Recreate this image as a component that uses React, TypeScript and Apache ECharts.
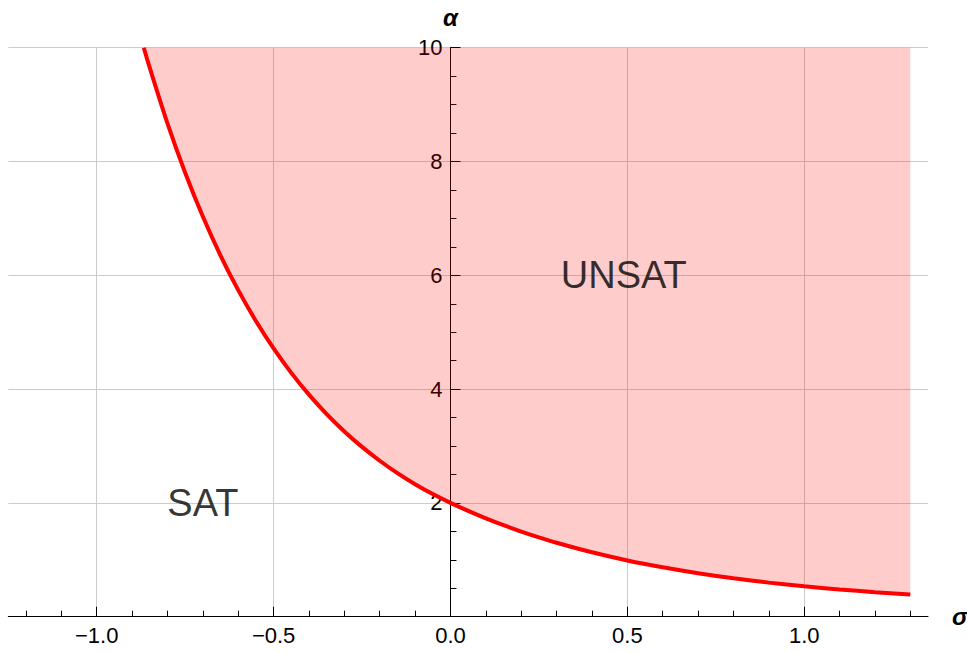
import React, { useEffect, useRef } from "react";
import * as echarts from "echarts";

// Phase boundary alpha_c(sigma)
const sigma = [-0.867, -0.85, -0.8, -0.75, -0.7, -0.65, -0.6, -0.55, -0.5, -0.45, -0.4, -0.35, -0.3, -0.25, -0.2, -0.15, -0.1, -0.05, 0, 0.05, 0.1, 0.15, 0.2, 0.25, 0.3, 0.4, 0.5, 0.6, 0.7, 0.8, 0.9, 1.0, 1.1, 1.2, 1.3];
const alpha = [10, 9.644, 8.669, 7.802, 7.032, 6.347, 5.739, 5.197, 4.715, 4.285, 3.902, 3.56, 3.256, 2.984, 2.741, 2.523, 2.329, 2.155, 2, 1.859, 1.728, 1.608, 1.497, 1.395, 1.3, 1.132, 0.989, 0.868, 0.764, 0.675, 0.599, 0.534, 0.479, 0.431, 0.391];

// Axis ticks
const xMajorTicks = [-1, -0.5, 0, 0.5, 1];
const xMinorTicks = [-1.2, -1.1, -0.9, -0.8, -0.7, -0.6, -0.4, -0.3, -0.2, -0.1, 0.1, 0.2, 0.3, 0.4, 0.6, 0.7, 0.8, 0.9, 1.1, 1.2, 1.3];
const yMajorTicks = [2, 4, 6, 8, 10];
const yMinorTicks = [0.5, 1, 1.5, 2.5, 3, 3.5, 4.5, 5, 5.5, 6.5, 7, 7.5, 8.5, 9, 9.5];

// Region labels
const regionNames = ["UNSAT", "SAT"];
const regionSigma = [0.49, -0.7];
const regionAlpha = [6.0, 2.0];

const FONT = "Liberation Sans, Arial, Helvetica, sans-serif";

// plot area in page pixels
const GRID_LEFT = 8.3;
const GRID_RIGHT = 39;
const X_MIN = -1.25;
const X_MAX = 1.35;
const PAGE_W = 967;

export default function App() {
  const ref = useRef<HTMLDivElement>(null);
  useEffect(() => {
    if (!ref.current) return;
    const chart = echarts.init(ref.current, undefined, { renderer: "svg" });
    const fmtX = (v: number) => {
      const s = Math.abs(v).toFixed(1);
      return v < 0 ? "\u2212" + s : s;
    };
    // place the vertical axis at sigma = 0
    const plotW = PAGE_W - GRID_LEFT - GRID_RIGHT;
    const zeroOffset = -((0 - X_MIN) / (X_MAX - X_MIN)) * plotW;
    chart.setOption({
      animation: false,
      backgroundColor: "#ffffff",
      grid: { left: GRID_LEFT, right: GRID_RIGHT, top: 47.7, bottom: 36.3, containLabel: false, outerBoundsMode: "none" },
      xAxis: [
        {
          type: "value",
          min: X_MIN,
          max: X_MAX,
          position: "bottom",
          axisLine: { show: true, onZero: false, lineStyle: { color: "#000", width: 1 } },
          axisTick: { show: true, inside: true, length: 10, customValues: xMajorTicks, lineStyle: { color: "#000", width: 1 } },
          axisLabel: { show: true, customValues: xMajorTicks, formatter: fmtX, fontSize: 22, color: "#000", margin: 8, fontFamily: FONT },
          splitLine: { show: true, lineStyle: { color: "#cccccc", width: 1 } },
          name: "\u03c3",
          nameLocation: "end",
          nameGap: 24,
          nameTextStyle: { fontSize: 24, fontWeight: "bold", fontStyle: "italic", color: "#000", fontFamily: FONT, verticalAlign: "middle" },
        },
        {
          type: "value",
          min: X_MIN,
          max: X_MAX,
          position: "bottom",
          axisLine: { show: false, onZero: false },
          axisTick: { show: true, inside: true, length: 6, customValues: xMinorTicks, lineStyle: { color: "#000", width: 1 } },
          axisLabel: { show: false },
          splitLine: { show: false },
        },
      ],
      yAxis: [
        {
          type: "value",
          min: 0,
          max: 10,
          position: "left",
          offset: zeroOffset,
          axisLine: { show: true, onZero: false, lineStyle: { color: "#000", width: 1 } },
          axisTick: { show: true, inside: true, length: 10, customValues: yMajorTicks, lineStyle: { color: "#000", width: 1 } },
          axisLabel: { show: true, customValues: yMajorTicks, fontSize: 22, color: "#000", margin: 8, fontFamily: FONT },
          splitLine: { show: true, lineStyle: { color: "#cccccc", width: 1 } },
          name: "\u03b1",
          nameLocation: "end",
          nameGap: 18,
          nameTextStyle: { fontSize: 24, fontWeight: "bold", fontStyle: "italic", color: "#000", fontFamily: FONT, align: "center" },
        },
        {
          type: "value",
          min: 0,
          max: 10,
          position: "left",
          offset: zeroOffset,
          axisLine: { show: false, onZero: false },
          axisTick: { show: true, inside: true, length: 6, customValues: yMinorTicks, lineStyle: { color: "#000", width: 1 } },
          axisLabel: { show: false },
          splitLine: { show: false },
        },
      ],
      series: [
        {
          type: "line",
          xAxisIndex: 0,
          yAxisIndex: 0,
          data: sigma.map((s, i) => [s, alpha[i]]),
          symbol: "none",
          showSymbol: false,
          smooth: 0.3,
          lineStyle: { color: "#ff0000", width: 4 },
          areaStyle: { origin: "end", color: "rgba(255,0,0,0.2)", opacity: 1 },
          z: 3,
        },
        {
          type: "scatter",
          xAxisIndex: 0,
          yAxisIndex: 0,
          data: regionNames.map((n, i) => ({ name: n, value: [regionSigma[i], regionAlpha[i]] })),
          symbolSize: 1,
          itemStyle: { color: "rgba(0,0,0,0)" },
          label: {
            show: true,
            position: "inside",
            formatter: (p: any) => p.name,
            fontSize: 38,
            color: "#000000",
            fontFamily: FONT,
          },
          silent: true,
          z: 4,
        },
      ],
    });
    return () => chart.dispose();
  }, []);
  return (
    <div
      ref={ref}
      style={{ position: "absolute", left: 0, top: 0, width: 967, height: 653 }}
    />
  );
}
